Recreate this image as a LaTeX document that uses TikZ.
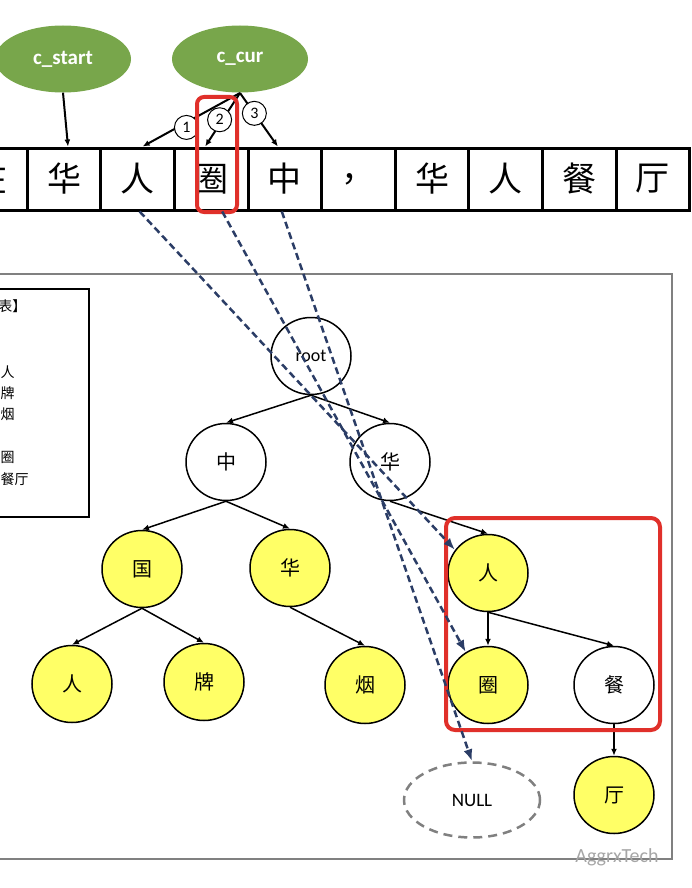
\documentclass[tikz,border=0pt]{standalone}
\usepackage{fontspec}
\setmainfont{Carlito}
\newfontfamily\cjk{Noto Sans CJK SC}
\usepackage{tikz}
\usetikzlibrary{shapes.geometric,arrows.meta,positioning}
\usepackage{xcolor}
\definecolor{ptrgreen}{HTML}{78A64B}
\definecolor{hityellow}{HTML}{FFFF66}
\definecolor{navy}{HTML}{2B3D66}
\definecolor{markred}{HTML}{E0302A}

\begin{document}
\begin{tikzpicture}[x=1pt,y=-1pt]
\tikzstyle{ptr}=[ellipse, fill=ptrgreen, text=white, font=\bfseries\fontsize{21}{21}\selectfont, minimum width=136pt, minimum height=67pt, inner sep=0pt]
\tikzstyle{cell}=[rectangle, draw, line width=3pt, minimum width=73.6pt, minimum height=62pt, inner sep=0pt, font=\cjk\fontsize{34}{34}\selectfont]
\tikzstyle{tnode}=[ellipse, draw, line width=1.5pt, minimum width=80pt, minimum height=77pt, inner sep=0pt, font=\cjk\fontsize{20}{20}\selectfont]
\tikzstyle{hit}=[tnode, fill=hityellow]
\tikzstyle{stepmark}=[circle, draw, fill=white, line width=1pt, minimum size=24pt, inner sep=0pt, font=\fontsize{16}{16}\selectfont]
\tikzstyle{edge}=[line width=1.5pt, -{Latex[length=7pt,width=6pt]}]
\tikzstyle{look}=[navy, line width=2.5pt, dash pattern=on 7pt off 4pt, -{Latex[length=12pt,width=9pt]}]

\useasboundingbox (0,0) rectangle (692,888);
\clip (0,0) rectangle (692,888);

% frame and legend
\draw[gray, line width=2pt] (-5,274) rectangle (672,859);
\draw[line width=2.5pt] (-10,289) rectangle (89,517);
\node[anchor=east, font=\cjk\fontsize{14}{14}\selectfont] (lg1) at (30,306) {表】};
\node[anchor=west, font=\cjk\fontsize{14}{14}\selectfont] (lg2) at (-3,372) {人};
\node[anchor=west, font=\cjk\fontsize{14}{14}\selectfont] (lg3) at (-3,393) {牌};
\node[anchor=west, font=\cjk\fontsize{14}{14}\selectfont] (lg4) at (-3,414) {烟};
\node[anchor=west, font=\cjk\fontsize{14}{14}\selectfont] (lg5) at (-3,457) {圈};
\node[anchor=west, font=\cjk\fontsize{14}{14}\selectfont] (lg6) at (-3,479) {餐厅};

% text cells
\foreach \ch [count=\i] in {在,华,人,圈,中,，,华,人,餐,厅}
  \node[cell] (c\i) at ({-9.6+(\i-1)*73.6},179) {\ch};

% pointers
\node[ptr] (cstart) at (63,59) {c\_start};
\node[ptr] (ccur) at (240,59) {c\_cur};
\coordinate (fork) at (240,93);

\draw[edge, line width=2pt] (cstart.south) -- ([xshift=4pt]c2.north);
\draw[edge, line width=2pt] (fork) -- node[stepmark, pos=0.55, yshift=-5pt]{1} ([xshift=5pt]c3.north);
\draw[edge, line width=2pt] (fork) -- node[stepmark, pos=0.5, xshift=-3pt]{2} ([xshift=-6pt]c4.north);
\draw[edge, line width=2pt] (fork) -- node[stepmark, pos=0.38]{3} ([xshift=-7pt]c5.north);

\draw[markred, line width=4pt, rounded corners=7pt] (197,97) rectangle (237,212);

% trie
\node[tnode, font=\fontsize{18}{18}\selectfont] (root) at (311,356) {root};
\node[tnode] (zhong) at (226,462) {中};
\node[tnode] (hua) at (390,462) {华};
\node[hit] (guo) at (142,569) {国};
\node[hit] (hua2) at (290,568) {华};
\node[hit] (ren) at (72,684) {人};
\node[hit] (pai) at (204,682) {牌};
\node[hit] (yan) at (365,685) {烟};
\node[hit] (ren2) at (488,573) {人};
\node[hit] (quan) at (488,685) {圈};
\node[tnode] (can) at (614,685) {餐};
\node[hit] (ting) at (614,795) {厅};
\node[ellipse, draw=gray, line width=2.5pt, dash pattern=on 9pt off 6pt, minimum width=136pt, minimum height=75pt, font=\fontsize{19}{19}\selectfont] (null) at (472,800) {NULL};

\draw[edge] (root.south) -- (zhong.north);
\draw[edge] (root.south) -- (hua.north);
\draw[edge] (zhong.south) -- (guo.north);
\draw[edge] (zhong.south) -- (hua2.north);
\draw[edge] (guo.south) -- (ren.north);
\draw[edge] (guo.south) -- (pai.north);
\draw[edge] (hua2.south) -- (yan.north);
\draw[edge] (hua.south) -- (ren2.north);
\draw[edge] (ren2.south) -- (quan.north);
\draw[edge] (ren2.south) -- (can.north);
\draw[edge] (can.south) -- (ting.north);

\draw[markred, line width=4pt, rounded corners=9pt] (446,518) rectangle (660,730);

% lookups
\draw[look] ([xshift=2pt]c3.south) -- (ren2.145);
\draw[look] ([xshift=11pt]c4.south) -- (quan.124);
\draw[look] ([xshift=-3pt]c5.south) -- (null.north);

\node[text=gray!70, font=\fontsize{20}{20}\selectfont] (mark) at (617,857) {AggrxTech};
\end{tikzpicture}
\end{document}
